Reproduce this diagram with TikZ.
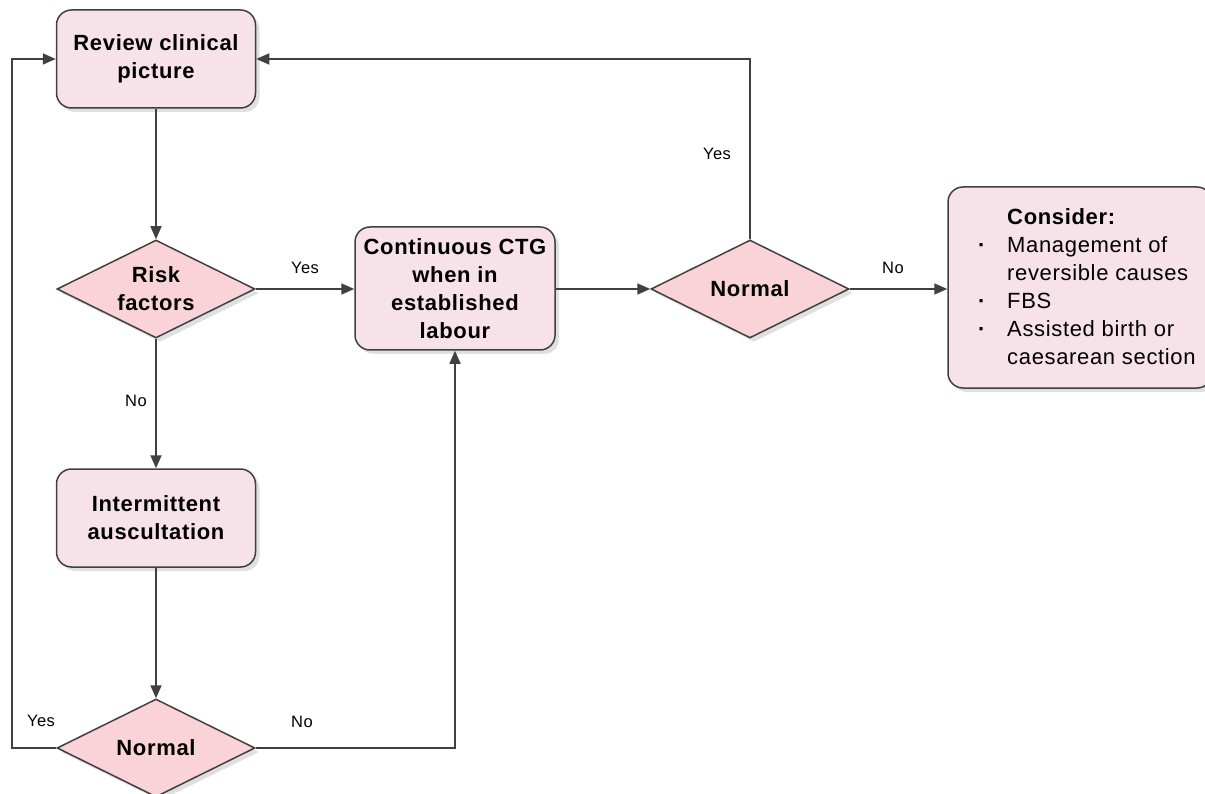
\documentclass[tikz,border=0pt]{standalone}
\usepackage{fontspec}
\setmainfont{Liberation Sans}[LetterSpace=3]
\usetikzlibrary{shapes.geometric,arrows.meta,shadows}
\definecolor{edge}{HTML}{404040}
\definecolor{boxfill}{HTML}{F6E2E8}
\definecolor{diafill}{HTML}{FAD3D8}
\begin{document}
\begin{tikzpicture}[x=1pt,y=-1pt,
  shad/.style={drop shadow={shadow xshift=4pt,shadow yshift=-4pt,fill=black!20,opacity=0.6}},
  box/.style={draw=edge, line width=1.5pt, fill=boxfill, rounded corners=15pt,
    minimum width=199pt, minimum height=98pt, inner sep=0pt, shad},
  dia/.style={diamond, draw=edge, line width=1.5pt, fill=diafill,
    minimum width=198pt, minimum height=98pt, inner sep=0pt, shad},
  btxt/.style={font=\fontsize{22}{28}\selectfont\bfseries, align=center, inner sep=0pt},
  lab/.style={font=\fontsize{16.5}{19}\selectfont, inner sep=0pt},
  ln/.style={draw=edge, line width=1.6pt},
  arr/.style={ln, -{Triangle[length=13pt,width=11pt]}}]
\useasboundingbox (0,0) rectangle (1205,794);
\clip (0,0) rectangle (1205,794);

% nodes
\node[box] (review) at (156,59) {};
\node[btxt] (reviewt) at (review) {Review clinical\\picture};

\node[dia] (risk) at (156,289) {};
\node[btxt] (riskt) at (risk) {Risk\\factors};

\node[box, minimum width=200pt, minimum height=123pt] (ctg) at (455,288.5) {};
\node[btxt] (ctgt) at (ctg) {Continuous CTG\\when in\\established\\labour};

\node[dia] (normtop) at (750,289) {};
\node[btxt] (normtopt) at (normtop) {Normal};

\node[box, minimum width=264pt, minimum height=201pt] (cons) at (1080,287.5) {};
\node[anchor=base west, inner sep=0pt, font=\fontsize{22}{28}\selectfont] (const) at (976,225)
  {\begin{tabular}[t]{@{}p{31pt}@{}l@{}}
   & \textbf{Consider:}\\
   \hspace{2pt}\textbf{\textperiodcentered} & Management of\\
   & reversible causes\\
   \hspace{2pt}\textbf{\textperiodcentered} & FBS\\
   \hspace{2pt}\textbf{\textperiodcentered} & Assisted birth or\\
   & caesarean section
   \end{tabular}};

\node[box] (inter) at (156,518) {};
\node[btxt] (intert) at (inter) {Intermittent\\auscultation};

\node[dia] (normbot) at (156,748) {};
\node[btxt] (normbott) at (normbot) {Normal};

% connectors
\draw[arr] (review.south) -- (risk.north);
\draw[arr] (risk.east) -- (risk.east -| ctg.west);
\draw[arr] (ctg.east |- normtop.west) -- (normtop.west);
\draw[arr] (normtop.east) -- (normtop.east -| cons.west);
\draw[arr] (normtop.north) |- (review.east);
\draw[arr] (risk.south) -- (inter.north);
\draw[arr] (inter.south) -- (normbot.north);
\draw[arr] (normbot.east) -| (ctg.south);
\coordinate (lft) at (12,748);
\draw[arr] (normbot.west) -- (lft) |- (review.west);

% labels
\node[lab] (l1) at (717,154) {Yes};
\node[lab] (l2) at (305,268) {Yes};
\node[lab] (l3) at (893,268) {No};
\node[lab] (l4) at (136,401) {No};
\node[lab] (l5) at (302,722) {No};
\node[lab] (l6) at (41,721) {Yes};
\end{tikzpicture}
\end{document}
